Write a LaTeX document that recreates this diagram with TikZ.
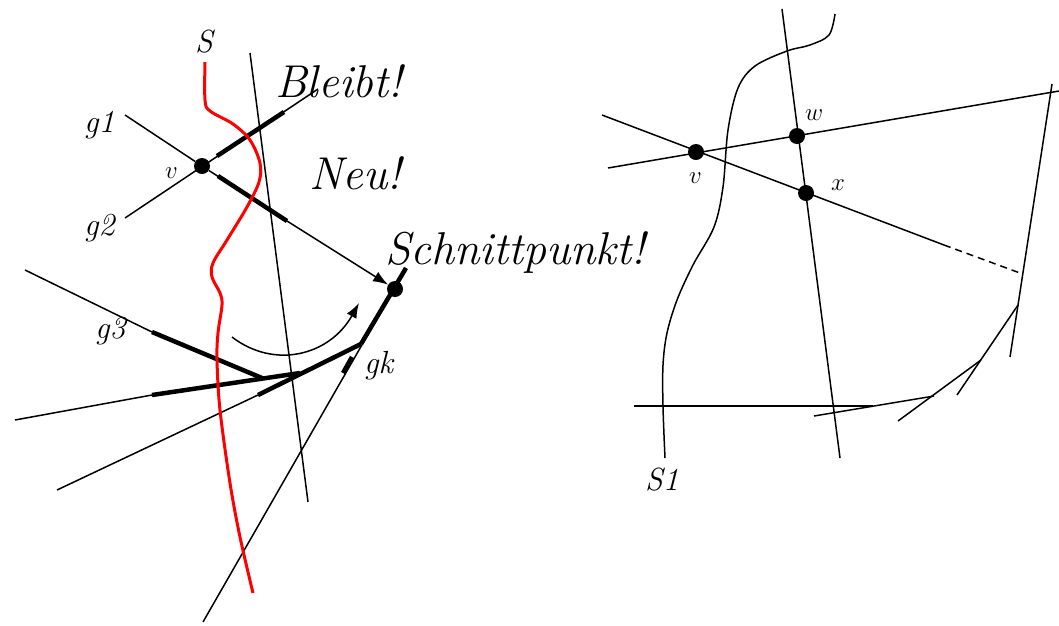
\documentclass[tikz,border=0pt]{standalone}
\usetikzlibrary{arrows.meta}
\begin{document}
\begin{tikzpicture}[x=1pt,y=-1pt,
  thinl/.style={line width=1.5pt},
  thickl/.style={line width=4.5pt},
  redcurve/.style={red,line width=3pt},
  dot/.style={circle,fill,inner sep=0pt,minimum size=16pt},
  lbl/.style={anchor=base west,inner sep=0pt,font=\fontsize{32}{36}\selectfont\itshape},
  big/.style={anchor=base west,inner sep=0pt,font=\fontsize{46}{50}\selectfont\itshape},
  tip/.style={-{Latex[length=15pt,width=11pt]}}]
\useasboundingbox (0,0) rectangle (1059,625);

% ---------------- left figure ----------------
\node[dot] (v) at (202,166) {};
\node[dot] (sch) at (395,289) {};

\coordinate (g1a) at (125,115);
\coordinate (g1b) at (218,176);
\coordinate (g1c) at (287,221);
\coordinate (g2a) at (125,218);
\coordinate (g2b) at (217,156);
\coordinate (g2c) at (284,112);
\coordinate (g2d) at (318,89);
\draw[thinl] (g1a) -- (v);
\draw[thinl] (v) -- (g1c);
\draw[thickl] (g1b) -- (g1c);
\draw[thinl, tip] (g1c) -- (sch);
\draw[thinl] (g2a) -- (g2d);
\draw[thickl] (g2b) -- (g2c);

% near vertical line
\coordinate (n1) at (250,53);
\coordinate (n2) at (308,502);
\draw[thinl] (n1) -- (n2);

% g3 line
\coordinate (g3a) at (25,270);
\coordinate (g3b) at (152,332);
\coordinate (g3c) at (262,378);
\draw[thinl] (g3a) -- (g3b);
\draw[thickl] (g3b) -- (g3c);

% second line
\coordinate (l2a) at (15,420);
\coordinate (l2b) at (152,395);
\coordinate (p) at (300,373);
\draw[thinl] (l2a) -- (l2b);
\draw[thickl] (l2b) -- (p);

% third line
\coordinate (l3a) at (57,490);
\coordinate (l3b) at (258,395);
\coordinate (q) at (361,344);
\draw[thinl] (l3a) -- (l3b);
\draw[thickl] (l3b) -- (q);

% gk line
\coordinate (gka) at (406,268);
\coordinate (gkb) at (352,357);
\coordinate (gkc) at (343,373);
\coordinate (gkd) at (203,622);
\draw[thinl] (gkd) -- (gka);
\draw[thickl] (gka) -- (q);
\draw[thickl] (gkb) -- (gkc);

% curved arrow
\coordinate (ca) at (232,337);
\coordinate (cb) at (359,303);
\draw[thinl, tip] (ca) .. controls (275,370) and (330,355) .. (cb);

% red curve S
\draw[redcurve] plot[smooth,tension=0.55] coordinates {(205,62) (205,100) (210,111) (233,124) (250,140) (260,163) (259,182) (247,207) (227,240) (213,263) (212,277) (220,293) (222,305) (218,333) (217,360) (220,410) (230,483) (240,537) (253,593)};

% labels
\node[lbl] (lS) at (195,52) {S};
\node[lbl] (lg1) at (84,132) {g1};
\node[lbl] (lg2) at (84,235) {g2};
\node[lbl] (lv) at (165,178) {$v$};
\node[lbl] (lg3) at (95,338) {g3};
\node[lbl] (lgk) at (364,373) {gk};
\node[big] (bl) at (275,97) {Bleibt!};
\node[big] (ne) at (309,189) {Neu!};
\node[big] (sp) at (385,264) {Schnittpunkt!};

% ---------------- right figure ----------------
\node[dot] (v2) at (696,152) {};
\node[dot] (w) at (797,136) {};
\node[dot] (x) at (806,193) {};

\coordinate (la) at (602,115);
\coordinate (lb) at (944,245);
\coordinate (lc) at (1020,273);
\draw[thinl] (la) -- (lb);
\draw[thinl, dash pattern=on 7pt off 5pt] (lb) -- (lc);

\coordinate (ma) at (608,168);
\coordinate (mb) at (1059,91);
\draw[thinl] (ma) -- (mb);

\coordinate (na) at (782,9);
\coordinate (nb) at (840,458);
\draw[thinl] (na) -- (nb);

\coordinate (da) at (1052,84);
\coordinate (db) at (1010,357);
\draw[thinl] (da) -- (db);

\coordinate (ha) at (634,406);
\coordinate (hb) at (873,406);
\draw[thinl] (ha) -- (hb);

\coordinate (ka) at (814,416);
\coordinate (kb) at (934,396);
\draw[thinl] (ka) -- (kb);

\coordinate (ja) at (898,421);
\coordinate (jb) at (981,360);
\draw[thinl] (ja) -- (jb);

\coordinate (ia) at (957,395);
\coordinate (ib) at (1018,305);
\draw[thinl] (ia) -- (ib);

\draw[thinl] plot[smooth,tension=0.55] coordinates {(835,14) (829,35) (810,45) (787,51) (755,66) (738,88) (728,130) (723,187) (714,227) (693,265) (677,300) (667,333) (663,365) (663,407) (665,458)};

\node[lbl] (lw) at (805,120) {$w$};
\node[lbl] (lv2) at (689,183) {$v$};
\node[lbl] (lx) at (831,190) {$x$};
\node[lbl] (lS1) at (645,490) {S1};
\end{tikzpicture}
\end{document}
